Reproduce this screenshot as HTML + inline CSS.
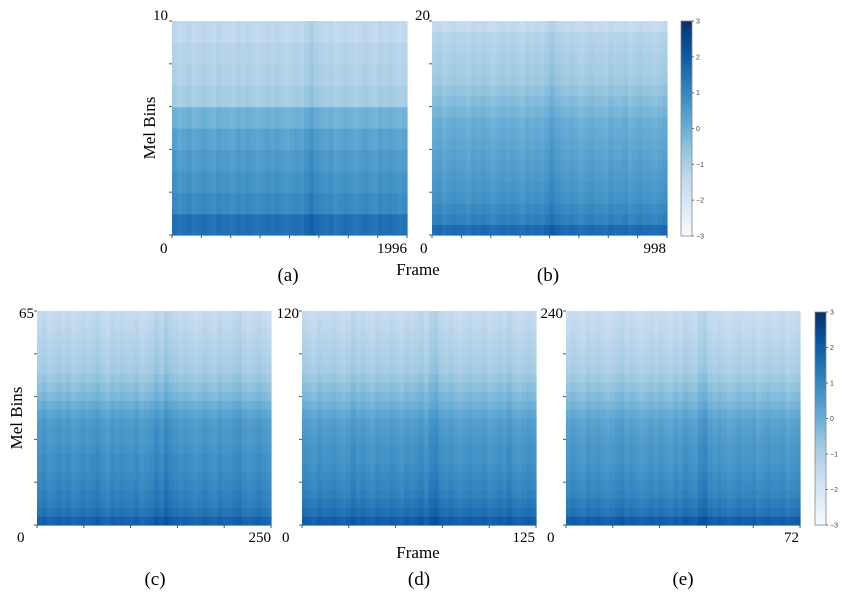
<!DOCTYPE html>
<html><head><meta charset="utf-8">
<style>
body{margin:0;background:#fff;}
svg{display:block;font-family:"Liberation Serif",serif;}
</style></head>
<body>
<svg id="fig" width="850" height="592" viewBox="0 0 850 592" xmlns="http://www.w3.org/2000/svg">
<g id="heat"></g>
<g id="axes" fill="#000" font-size="15">
  <text x="168" y="20" text-anchor="end">10</text>
  <text x="160" y="253">0</text>
  <text x="407" y="253" text-anchor="end">1996</text>
  <text x="430" y="20" text-anchor="end">20</text>
  <text x="420" y="253">0</text>
  <text x="666" y="253" text-anchor="end">998</text>
  <text x="34" y="318" text-anchor="end">65</text>
  <text x="17" y="542">0</text>
  <text x="271" y="542" text-anchor="end">250</text>
  <text x="299" y="318" text-anchor="end">120</text>
  <text x="282" y="542">0</text>
  <text x="535" y="542" text-anchor="end">125</text>
  <text x="563" y="318" text-anchor="end">240</text>
  <text x="547" y="542">0</text>
  <text x="799" y="542" text-anchor="end">72</text>
  <text x="418" y="275" text-anchor="middle" font-size="17">Frame</text>
  <text x="418" y="558" text-anchor="middle" font-size="17">Frame</text>
  <text transform="translate(155,128) rotate(-90)" text-anchor="middle" font-size="17">Mel Bins</text>
  <text transform="translate(22,418) rotate(-90)" text-anchor="middle" font-size="17">Mel Bins</text>
  <text x="288" y="281" text-anchor="middle" font-size="19">(a)</text>
  <text x="548" y="281" text-anchor="middle" font-size="19">(b)</text>
  <text x="155" y="585" text-anchor="middle" font-size="19">(c)</text>
  <text x="419" y="585" text-anchor="middle" font-size="19">(d)</text>
  <text x="683" y="585" text-anchor="middle" font-size="19">(e)</text>
</g>
<g id="cbars"></g>
</svg>
<script>
// Row means (bottom -> top) and column offsets for each panel
const rowsA = [1.5, 0.9, 0.7, 0.5, 0.3, -0.1, -0.9, -1.1, -1.2, -1.4];
const colsA = [0.1,-0.1,0.0,0.1,-0.1,0.0,0.1,0.0,-0.1,0.1,0.0,0.0,-0.1,0.1,0.0,0.1,0.0,-0.1,0.0,0.1,0.0,0.1,0.0,-0.1,0.0,0.1,0.0,0.2,0.4,0.2,0.1,0.0,0.1,-0.1,0.0,0.1,0.0,-0.1,0.0,0.1,0.0,-0.1,0.1,0.0,0.1,0.0,-0.1,0.0];
const rowsB = [1.6, 1.1, 0.9, 0.7, 0.6, 0.5, 0.4, 0.3, 0.2, 0.1, 0.0, -0.2, -0.4, -0.6, -0.8, -0.9, -1.0, -1.1, -1.2, -1.5];
const colsB = [0.0,0.1,-0.1,0.0,0.1,0.0,0.0,-0.1,0.1,0.0,0.1,0.0,-0.1,0.0,0.1,0.0,0.1,0.0,-0.1,0.1,0.0,0.1,0.0,0.2,0.4,0.2,0.1,0.0,0.1,0.0,-0.1,0.0,0.1,0.0,0.0,-0.1,0.1,0.0,0.0,0.1,-0.1,0.0,0.1,0.0,0.0,-0.1,0.0,0.1];
const rowsC = [1.8, 1.4, 1.2, 1.1, 1.0, 0.9, 0.8, 0.8, 0.7, 0.6, 0.6, 0.5, 0.3, 0.0, -0.3, -0.5, -0.7, -0.9, -1.0, -1.1, -1.2, -1.3, -1.4, -1.5];
const colsC = [0.0,0.1,-0.1,0.0,0.1,0.0,0.1,-0.1,0.0,0.1,0.0,0.1,0.2,0.0,-0.1,0.1,0.0,0.1,0.0,0.0,0.1,-0.1,0.0,0.1,0.3,0.1,0.4,0.2,0.1,0.0,0.1,0.0,-0.1,0.0,0.1,0.0,-0.1,0.1,0.0,0.0,0.1,0.2,0.0,-0.1,0.0,0.1,0.0,-0.1];
const rowsD = [1.9, 1.5, 1.3, 1.1, 1.0, 0.9, 0.8, 0.7, 0.7, 0.6, 0.5, 0.4, 0.2, -0.1, -0.3, -0.5, -0.7, -0.9, -1.0, -1.1, -1.2, -1.3, -1.4, -1.5];
const colsD = [0.1,0.0,-0.1,0.1,0.0,0.0,0.1,0.0,-0.1,0.0,0.2,0.0,0.1,0.0,-0.1,0.1,0.0,0.0,0.1,0.0,-0.1,0.1,0.0,0.1,0.2,0.0,0.3,0.4,0.1,0.0,0.1,0.0,-0.1,0.0,0.1,0.0,0.0,0.1,-0.1,0.0,0.1,0.0,0.2,0.0,-0.1,0.0,0.1,0.0];
const rowsE = [1.9, 1.4, 1.2, 1.0, 0.9, 0.8, 0.7, 0.6, 0.6, 0.5, 0.4, 0.3, 0.1, -0.2, -0.4, -0.6, -0.8, -1.0, -1.1, -1.2, -1.3, -1.4, -1.5, -1.6];
const colsE = [0.0,0.1,0.0,-0.1,0.1,0.0,0.1,0.0,-0.1,0.0,0.1,0.2,0.0,0.1,0.0,-0.1,0.0,0.1,0.0,0.1,0.0,-0.1,0.1,0.0,0.2,0.1,0.0,0.3,0.4,0.1,0.0,0.1,0.0,-0.1,0.0,0.1,0.0,0.0,0.1,-0.1,0.0,0.1,0.0,0.0,0.1,-0.1,0.0,0.1];
const cbarTicks = ["3","2","1","0","\u22121","\u22122","\u22123"];

const NS = "http://www.w3.org/2000/svg";
const stops = ["#f7fbff","#deebf7","#c6dbef","#9ecae1","#6baed6","#4292c6","#2171b5","#08519c","#08306b"];
function hex(h){return [1,3,5].map(i=>parseInt(h.substr(i,2),16));}
function color(v){
  let t = (Math.max(-3,Math.min(3,v))+3)/6*8;
  let i = Math.min(7,Math.floor(t)), f=t-i;
  const a=hex(stops[i]), b=hex(stops[i+1]);
  return "rgb("+a.map((x,k)=>Math.round(x+(b[k]-x)*f)).join(",")+")";
}
const heat = document.getElementById("heat");
function panel(name,x0,y0,w,h,rows,cols,yt,xt){
  const g=document.createElementNS(NS,"g");
  
  
  const rh=h/rows.length, cw=w/cols.length;
  rows.forEach((rv,r)=>{cols.forEach((cv,c)=>{
    const rc=document.createElementNS(NS,"rect");
    
    
    rc.setAttribute("x",(x0+c*cw).toFixed(2));
    rc.setAttribute("y",(y0+h-(r+1)*rh).toFixed(2));
    rc.setAttribute("width",(cw+0.6).toFixed(2));
    rc.setAttribute("height",(rh+0.6).toFixed(2));
    rc.setAttribute("fill",color(rv+cv));
    g.appendChild(rc);
  });});
  // ticks
  for(let i=0;i<=yt;i++){
    const l=document.createElementNS(NS,"line");
    
    
    const y=y0+h*i/yt;
    l.setAttribute("x1",x0-3);l.setAttribute("x2",x0);l.setAttribute("y1",y);l.setAttribute("y2",y);
    l.setAttribute("stroke","#555");g.appendChild(l);
  }
  for(let i=0;i<=xt;i++){
    const l=document.createElementNS(NS,"line");
    
    
    const x=x0+w*i/xt;
    l.setAttribute("x1",x);l.setAttribute("x2",x);l.setAttribute("y1",y0+h);l.setAttribute("y2",y0+h+3);
    l.setAttribute("stroke","#555");g.appendChild(l);
  }
  heat.appendChild(g);
}
panel("panel-a-heatmap",172,21,235,214,rowsA,colsA,5,8);
panel("panel-b-heatmap",432,21,235,214,rowsB,colsB,5,8);
panel("panel-c-heatmap",37,311,234,214,rowsC,colsC,5,5);
panel("panel-d-heatmap",302,311,234,214,rowsD,colsD,5,5);
panel("panel-e-heatmap",566,311,234,214,rowsE,colsE,5,5);

const cb=document.getElementById("cbars");
function colorbar(name,x0,y0,w,h){
  const g=document.createElementNS(NS,"g");
  
  
  const n=60;
  for(let i=0;i<n;i++){
    const r=document.createElementNS(NS,"rect");
    
    
    r.setAttribute("x",x0);r.setAttribute("y",(y0+h*i/n).toFixed(2));
    r.setAttribute("width",w);r.setAttribute("height",(h/n+0.5).toFixed(2));
    r.setAttribute("fill",color(3-6*(i+0.5)/n));
    g.appendChild(r);
  }
  const fr=document.createElementNS(NS,"rect");
  
  
  fr.setAttribute("x",x0);fr.setAttribute("y",y0);fr.setAttribute("width",w);fr.setAttribute("height",h);
  fr.setAttribute("fill","none");fr.setAttribute("stroke","#888");fr.setAttribute("stroke-width","0.8");
  g.appendChild(fr);
  cbarTicks.forEach((t,i)=>{
    const y=y0+h*i/(cbarTicks.length-1);
    const l=document.createElementNS(NS,"line");
    
    
    l.setAttribute("x1",x0+w);l.setAttribute("x2",x0+w+2);l.setAttribute("y1",y);l.setAttribute("y2",y);
    l.setAttribute("stroke","#666");g.appendChild(l);
    const tx=document.createElementNS(NS,"text");
    
    
    tx.setAttribute("x",x0+w+4);tx.setAttribute("y",y+2.5);
    tx.setAttribute("font-size","7");tx.setAttribute("font-family","Liberation Sans, sans-serif");
    tx.setAttribute("fill","#444");tx.textContent=t;g.appendChild(tx);
  });
  cb.appendChild(g);
}
colorbar("colorbar-top",681,21,11,215);
colorbar("colorbar-bottom",815,312,11,213);
</script>
</body></html>
